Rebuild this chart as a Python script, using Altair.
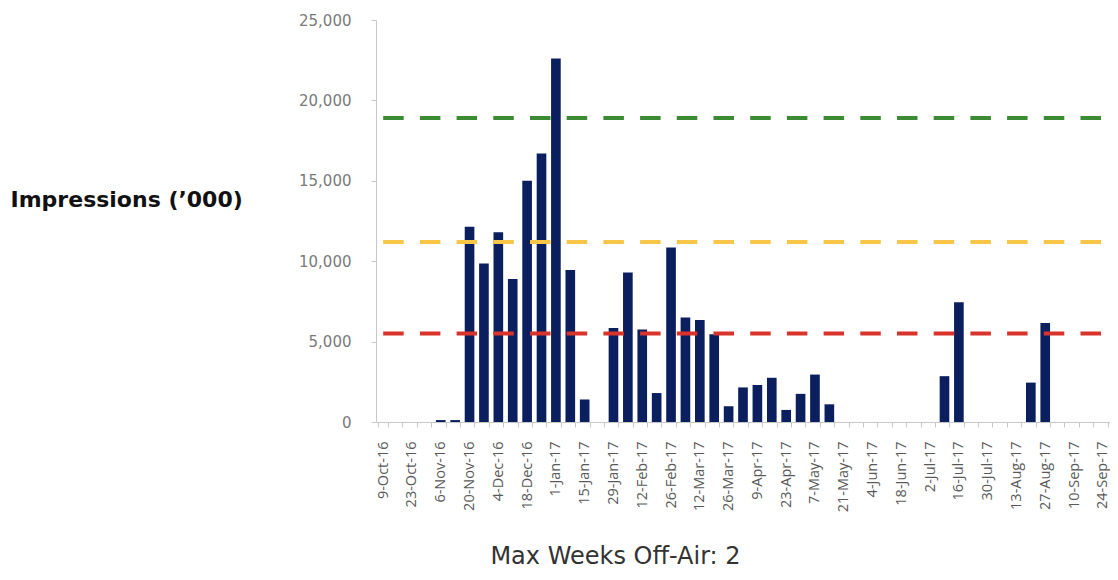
import json
import altair as alt
import pandas as pd

# Weekly categories (week commencing), 9-Oct-16 .. 24-Sep-17
weeks = [d.strftime('%-d-%b-%y') for d in pd.date_range('2016-10-09', periods=51, freq='7D')]
shown_labels = weeks[::2]

impressions = [
    0, 0, 0, 0, 120, 120, 12150, 9850, 11800, 8900,
    15000, 16700, 22600, 9450, 1400, 0, 5850, 9300, 5750, 1800,
    10850, 6500, 6350, 5450, 980, 2150, 2300, 2750, 750, 1750,
    2950, 1100, 0, 0, 0, 0, 0, 0, 0, 2850,
    7450, 0, 0, 0, 0, 2450, 6150, 0, 0, 0,
    0,
]

threshold_names = ["High", "Medium", "Low"]
threshold_values = [18900, 11200, 5500]
threshold_colors = ["#3c8a33", "#f7c548", "#d9342b"]

bars_df = pd.DataFrame({"week": weeks, "value": impressions})
lines_df = pd.DataFrame(
    [{"week": w, "name": n, "value": v} for n, v in zip(threshold_names, threshold_values) for w in weeks]
)

label_expr = "indexof(%s, datum.value) >= 0 ? datum.value : ''" % json.dumps(shown_labels)

x_enc = alt.X(
    "week:N",
    sort=weeks,
    scale=alt.Scale(paddingInner=0.33, paddingOuter=0.165),
    axis=alt.Axis(
        title="Max Weeks Off-Air: 2",
        titleFont="DejaVu Sans",
        titleFontSize=24,
        titleFontWeight="normal",
        titleColor="#333333",
        titleX=239,
        titleY=141,
        titleAlign="center",
        titleBaseline="alphabetic",
        labelExpr=label_expr,
        labelAngle=270,
        labelFont="Open Sans",
        labelFontSize=14.5,
        labelColor="#595959",
        labelPadding=14,
        labelOverlap=False,
        labelBound=False,
        tickBand="extent",
        tickSize=5,
        tickColor="#c8c8c8",
        domainColor="#c8c8c8",
        grid=False,
    ),
)

y_scale = alt.Scale(domain=[0, 25000], nice=False)

bars = alt.Chart(bars_df).mark_bar(color="#0b1f5e").encode(
    x=x_enc,
    y=alt.Y(
        "value:Q",
        scale=y_scale,
        axis=alt.Axis(
            title="Impressions (\u2019000)",
            titleFont="DejaVu Sans",
            titleFontSize=22,
            titleFontWeight="bold",
            titleColor="#111111",
            titleAngle=0,
            titleAlign="left",
            titleBaseline="alphabetic",
            titleX=-366,
            titleY=186,
            values=[0, 5000, 10000, 15000, 20000, 25000],
            format=",d",
            labelFont="DejaVu Sans",
            labelFontSize=15,
            labelColor="#7a7a7a",
            labelPadding=20,
            tickSize=5,
            tickColor="#c8c8c8",
            domainColor="#c8c8c8",
            grid=False,
        ),
    ),
)

lines = alt.Chart(lines_df).mark_line(strokeWidth=4, strokeDash=[20.5, 16.2]).encode(
    x=alt.X("week:N", sort=weeks),
    y=alt.Y("value:Q", scale=y_scale),
    color=alt.Color(
        "name:N",
        scale=alt.Scale(domain=threshold_names, range=threshold_colors),
        legend=None,
    ),
)

chart = (
    alt.layer(bars, lines)
    .properties(
        width=734,
        height=402,
        autosize=alt.AutoSizeParams(type="none"),
        padding={"left": 368, "top": 12, "right": 0, "bottom": 149},
    )
    .configure_view(stroke=None)
)

chart.save("out.html", embed_options={"renderer": "svg", "actions": False})
